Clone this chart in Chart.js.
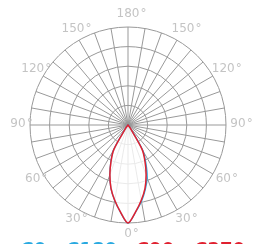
<!DOCTYPE html>
<html>
<head>
<meta charset="utf-8">
<script src="https://cdn.jsdelivr.net/npm/chart.js@4.4.1/dist/chart.umd.min.js"></script>
<style>
  html, body { margin: 0; padding: 0; background: #fff; overflow: hidden; }
</style>
</head>
<body>
<canvas id="myChart" width="255" height="269"></canvas>
<script>
// gamma angles, 5 degree steps from 0 (down) to 180 (up)
const gammas = [0, 5, 10, 15, 20, 25, 30, 35, 40, 45, 50, 55, 60, 65, 70, 75, 80, 85, 90,
    95, 100, 105, 110, 115, 120, 125, 130, 135, 140, 145, 150, 155, 160, 165, 170, 175, 180];

// relative intensity (%) per C plane
const c0 = [100, 89, 79, 68, 57, 43, 30, 5, 0, 0, 0, 0, 0, 0, 0, 0, 0, 0, 0,
    0, 0, 0, 0, 0, 0, 0, 0, 0, 0, 0, 0, 0, 0, 0, 0, 0, 0];
const c180 = [100, 89, 78, 67, 54, 41, 29, 4, 0, 0, 0, 0, 0, 0, 0, 0, 0, 0, 0,
    0, 0, 0, 0, 0, 0, 0, 0, 0, 0, 0, 0, 0, 0, 0, 0, 0, 0];
const c90 = [100, 89, 78, 67, 54, 41, 29, 4, 0, 0, 0, 0, 0, 0, 0, 0, 0, 0, 0,
    0, 0, 0, 0, 0, 0, 0, 0, 0, 0, 0, 0, 0, 0, 0, 0, 0, 0];
const c270 = [100, 89, 78, 67, 54, 41, 29, 4, 0, 0, 0, 0, 0, 0, 0, 0, 0, 0, 0,
    0, 0, 0, 0, 0, 0, 0, 0, 0, 0, 0, 0, 0, 0, 0, 0, 0, 0];

const seriesNames = ['C0 - C180', 'C90 - C270'];
const tickLabels = [0, 30, 60, 90, 120, 150, 180];

// full circle clockwise from the bottom: left half then right half back down
function fullCircle(left, right) {
    const out = left.slice();
    for (let i = right.length - 2; i >= 1; i--) out.push(right[i]);
    return out;
}
const angles = fullCircle(gammas, gammas);

const gridColor = '#999';
const labelColor = '#c4c4c4';

Chart.defaults.font.family = "'DejaVu Sans', sans-serif";

// draw the degree labels just outside the outer ring
const degreeLabels = {
    id: 'degreeLabels',
    afterDraw(chart) {
        const scale = chart.scales.r;
        const ctx = chart.ctx;
        ctx.save();
        ctx.font = "12px 'DejaVu Sans'";
        ctx.fillStyle = labelColor;
        ctx.textBaseline = 'middle';
        angles.forEach((a, i) => {
            if (!tickLabels.includes(a)) return;
            const p = scale.getPointPosition(i, scale.drawingArea + 12);
            const txt = String(a);
            const w = ctx.measureText(txt).width;
            ctx.textAlign = 'center';
            ctx.fillText(txt, p.x, p.y - 1);
            ctx.textAlign = 'left';
            ctx.fillText('°', p.x + w / 2 + 1, p.y - 1);
        });
        ctx.restore();
    }
};

let ctx = document.getElementById('myChart').getContext('2d');
let myChart = new Chart(ctx, {
    type: 'radar',
    data: {
        labels: angles,
        datasets: [{
            label: seriesNames[0],
            data: fullCircle(c180, c0),
            borderColor: '#29a9e0',
            backgroundColor: 'rgba(255,255,255,0.55)',
            borderWidth: 1.5,
            fill: true,
            pointRadius: 0,
            order: 1
        }, {
            label: seriesNames[1],
            data: fullCircle(c270, c90),
            borderColor: '#e0202f',
            backgroundColor: 'rgba(255,255,255,0.55)',
            borderWidth: 1.5,
            fill: true,
            pointRadius: 0,
            order: 0
        }]
    },
    options: {
        responsive: false,
        animation: false,
        layout: { padding: { top: 27, left: 1, right: 0, bottom: 0 } },
        elements: { line: { tension: 0.3 } },
        scales: {
            r: {
                min: 0,
                max: 100,
                startAngle: 180,
                ticks: { display: false, stepSize: 20 },
                pointLabels: { display: false },
                grid: { circular: true, color: gridColor, lineWidth: 1 },
                angleLines: {
                    color: c => (c.index % 2 === 0 ? gridColor : 'rgba(0,0,0,0)'),
                    lineWidth: 1
                }
            }
        },
        plugins: {
            tooltip: { enabled: false },
            legend: {
                position: 'bottom',
                align: 'end',
                // empty title just pushes the entries down a little
                title: { display: true, text: '', padding: 0, font: { size: 6.5, lineHeight: 1.2 } },
                labels: {
                    boxWidth: 0,
                    boxHeight: 0,
                    padding: 10,
                    font: { size: 18, weight: 'bold' },
                    generateLabels(chart) {
                        return chart.data.datasets.map((ds, i) => ({
                            text: ds.label,
                            fontColor: ds.borderColor,
                            fillStyle: 'rgba(0,0,0,0)',
                            strokeStyle: 'rgba(0,0,0,0)',
                            lineWidth: 0,
                            hidden: false,
                            datasetIndex: i
                        }));
                    }
                }
            }
        }
    },
    plugins: [degreeLabels]
});
</script>
</body>
</html>
